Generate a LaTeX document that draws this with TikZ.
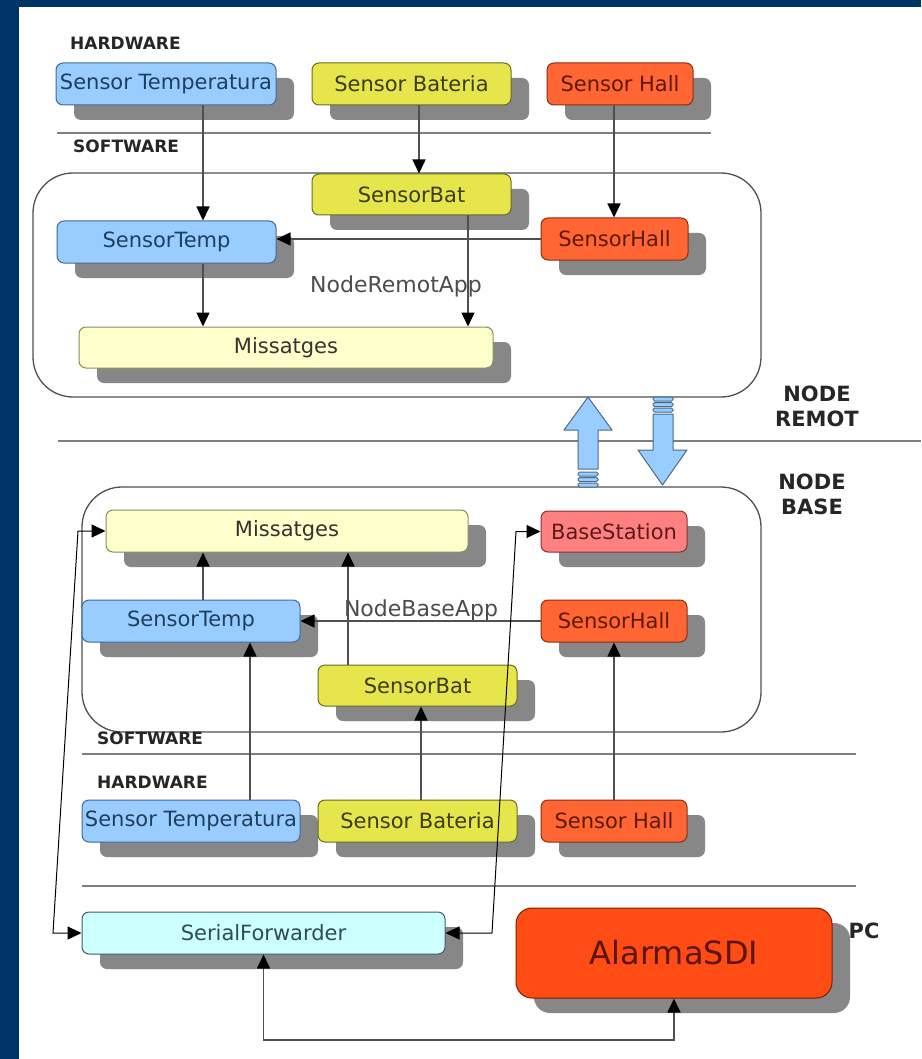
\documentclass[tikz,border=0pt]{standalone}
\usepackage{fontspec}
\setmainfont{DejaVu Sans}
\usetikzlibrary{arrows.meta,shadows}
\definecolor{navy}{RGB}{0,52,102}
\definecolor{cBlue}{HTML}{99CCFF}\definecolor{cBlueD}{HTML}{3F6A99}\definecolor{cBlueT}{HTML}{1F3F5F}
\definecolor{cYel}{HTML}{E6E64C}\definecolor{cYelD}{HTML}{6B6B24}\definecolor{cYelT}{HTML}{3B3B14}
\definecolor{cOr}{HTML}{FF6633}\definecolor{cOrD}{HTML}{8A2E10}\definecolor{cOrT}{HTML}{5C1A05}
\definecolor{cPink}{HTML}{FF8080}\definecolor{cPinkD}{HTML}{8A3030}\definecolor{cPinkT}{HTML}{5C1A1A}
\definecolor{cMsg}{HTML}{FFFFCC}\definecolor{cMsgD}{HTML}{8A8A60}\definecolor{cMsgT}{HTML}{333333}
\definecolor{cSer}{HTML}{CCFFFF}\definecolor{cSerD}{HTML}{3D5E5E}\definecolor{cSerT}{HTML}{2E4D4D}
\definecolor{cAl}{HTML}{FF4C14}\definecolor{cAlD}{HTML}{7A2000}\definecolor{cAlT}{HTML}{5A1400}
\definecolor{shgray}{HTML}{878787}
\definecolor{lineg}{HTML}{505050}
\definecolor{sepgray}{HTML}{7F7F7F}
\definecolor{bigD}{HTML}{4A6A8A}
\newcommand\bxf{\fontsize{21}{24}\selectfont}
\newcommand\lbf{\fontsize{17}{20}\selectfont\bfseries}
\newcommand\nbf{\fontsize{21}{25}\selectfont\bfseries}
\newcommand\apf{\fontsize{22}{25}\selectfont}
\begin{document}
\begin{tikzpicture}[x=1pt,y=-1pt,
 box/.style={draw,line width=1pt,rounded corners=7pt,inner sep=0pt,font=\bxf,
   drop shadow={shadow xshift=18pt,shadow yshift=-15pt,fill=shgray,opacity=1}},
 sz/.style 2 args={minimum width=#1,minimum height=#2},
 bluebox/.style={box,fill=cBlue,draw=cBlueD,text=cBlueT},
 yelbox/.style={box,fill=cYel,draw=cYelD,text=cYelT},
 orbox/.style={box,fill=cOr,draw=cOrD,text=cOrT},
 pinkbox/.style={box,fill=cPink,draw=cPinkD,text=cPinkT},
 msgbox/.style={box,fill=cMsg,draw=cMsgD,text=cMsgT},
 serbox/.style={box,fill=cSer,draw=cSerD,text=cSerT},
 albox/.style={box,fill=cAl,draw=cAlD,text=cAlT,rounded corners=16pt,font=\fontsize{32}{36}\selectfont},
 container/.style={draw=lineg,line width=1.3pt,rounded corners=40pt,inner sep=0pt},
 sep/.style={draw=sepgray,line width=1.6pt},
 lab/.style={font=\lbf,text=black!85,anchor=west,inner sep=0pt},
 nlab/.style={font=\nbf,text=black!85,inner sep=0pt,align=center},
 applab/.style={font=\apf,text=black!70,inner sep=0pt},
 tip/.tip={Triangle[length=14pt,width=13pt,color=black]},
 arr/.style={draw=lineg,line width=1.5pt,-tip},
 arrboth/.style={draw=lineg,line width=1.5pt,tip-tip},
 thinarr/.style={draw=black,line width=1pt,tip-tip},
 bigarr/.style={fill=cBlue,draw=bigD,line width=1pt,line join=round}]
\useasboundingbox (0,0) rectangle (921,1059);
\fill[white] (0,0) rectangle (921,1059);
\fill[navy] (0,0) rectangle (19,1059);
\fill[navy] (0,0) rectangle (921,7);

% containers
\node[container,sz={728}{224}] (remot) at (397,285) {};
\node[container,sz={679}{245}] (base) at (421.5,609.5) {};

% separators
\draw[sep] (57,133) -- (711,133);
\draw[sep] (58,441) -- (921,441);
\draw[sep] (82,754) -- (856,754);
\draw[sep] (82,886) -- (856,886);

% top: node remot
\node[bluebox,sz={220}{42}] (hwT) at (166,84) {Sensor Temperatura};
\node[yelbox,sz={199}{42}] (hwB) at (411.5,84) {Sensor Bateria};
\node[orbox,sz={146}{42}] (hwH) at (620,84) {Sensor Hall};
\node[yelbox,sz={199}{41}] (swB) at (411.5,194.5) {SensorBat};
\node[bluebox,sz={219}{42}] (swT) at (166.5,242) {SensorTemp};
\node[orbox,sz={147}{42}] (swH) at (614.5,239) {SensorHall};
\node[msgbox,sz={414}{41}] (msgR) at (286,347.5) {Missatges};

% bottom: node base
\node[msgbox,sz={362}{42}] (msgB) at (287,531) {Missatges};
\node[pinkbox,sz={146}{41}] (bs) at (614,531.5) {BaseStation};
\node[bluebox,sz={218}{42}] (bT) at (191,621) {SensorTemp};
\node[orbox,sz={146}{42}] (bH) at (614,621) {SensorHall};
\node[yelbox,sz={199}{41}] (bB) at (417.5,685.5) {SensorBat};
\node[bluebox,sz={218}{42}] (hT) at (191,821) {Sensor Temperatura};
\node[yelbox,sz={199}{42}] (hB) at (417.5,821) {Sensor Bateria};
\node[orbox,sz={146}{42}] (hH) at (614,821) {Sensor Hall};

% PC
\node[serbox,sz={363}{42}] (sf) at (263.5,933) {SerialForwarder};
\node[albox,sz={316}{90}] (al) at (674,953) {AlarmaSDI};

% labels
\node[lab] (lhw1) at (70,43) {HARDWARE};
\node[lab] (lsw1) at (73,146) {SOFTWARE};
\node[lab] (lsw2) at (97,738) {SOFTWARE};
\node[lab] (lhw2) at (97,782) {HARDWARE};
\node[nlab] (lremot) at (817,406) {NODE\\REMOT};
\node[nlab] (lbase) at (812,494) {NODE\\BASE};
\node[nlab] (lpc) at (864,931) {PC};
\node[applab] (app1) at (396,286) {NodeRemotApp};
\node[applab] (app2) at (421,610) {NodeBaseApp};

% connectors top
\draw[arr] ([xshift=37pt]hwT.south) -- ([xshift=36.5pt]swT.north);
\draw[arr] ([xshift=7.5pt]hwB.south) -- ([xshift=7.5pt]swB.north);
\draw[arr] ([xshift=-6pt]hwH.south) -- ([xshift=-0.5pt]swH.north);
\draw[arr] (swH.west) -- (swH.west -| swT.east);
\draw[arr] ([xshift=36.5pt]swT.south) -- ([xshift=-83pt]msgR.north);
\draw[arr] ([xshift=56.5pt]swB.south) -- ([xshift=182pt]msgR.north);

% connectors bottom
\draw[arr] ([xshift=12pt]bT.north) -- ([xshift=-84pt]msgB.south);
\draw[arr] ([xshift=-69.5pt]bB.north) -- ([xshift=61pt]msgB.south);
\draw[arr] (bH.west) -- (bH.west -| bT.east);
\draw[arr] ([xshift=59pt]hT.north) -- ([xshift=59pt]bT.south);
\draw[arr] ([xshift=3.5pt]hB.north) -- ([xshift=3.5pt]bB.south);
\draw[arr] (hH.north) -- (bH.south);

% long connectors
\coordinate (l1) at (53,933);
\coordinate (l2) at (78,531);
\draw[thinarr] (sf.west) -- (l1) -- (l2) -- (msgB.west);
\coordinate (r1) at (492,933);
\coordinate (r2) at (516,531.5);
\draw[thinarr] (sf.east) -- (r1) -- (r2) -- (bs.west);
\coordinate (b1) at (674,1040);
\coordinate (b2) at (263.5,1040);
\draw[arrboth] (al.south) -- (b1) -- (b2) -- (sf.south);

% big arrows between nodes
\draw[bigarr] (588,397) -- (564,430) -- (578,430) -- (578,469) -- (598,469) -- (598,430) -- (612,430) -- cycle;
\foreach \yy in {472,477.5,483}
  \draw[bigarr,rounded corners=1.5pt] (578,\yy) rectangle (598,\yy+4);
\foreach \yy in {397,402.5,408}
  \draw[bigarr,rounded corners=1.5pt] (653,\yy) rectangle (673,\yy+4);
\draw[bigarr] (653,414) -- (653,450) -- (638,450) -- (662.5,485) -- (687,450) -- (673,450) -- (673,414) -- cycle;
\end{tikzpicture}
\end{document}
